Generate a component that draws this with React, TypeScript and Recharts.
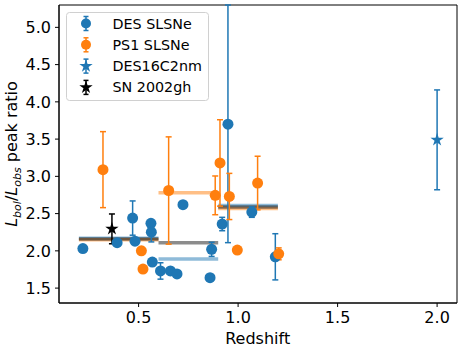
import React from "react";
import {
  ScatterChart,
  Scatter,
  XAxis,
  YAxis,
  ErrorBar,
  ReferenceLine,
  ReferenceArea,
  Legend,
} from "recharts";

const BLUE = "#1f77b4";
const ORANGE = "#ff7f0e";
const FONT = "DejaVu Sans, Verdana, sans-serif";

// DES SLSNe: redshift, ratio, error (undefined = no visible bar)
const desZ = [0.22, 0.392, 0.47, 0.482, 0.562, 0.564, 0.569, 0.61, 0.66, 0.693, 0.723, 0.859, 0.867, 0.92, 0.949, 1.069, 1.187];
const desRatio = [2.03, 2.11, 2.44, 2.13, 2.37, 2.25, 1.85, 1.73, 1.73, 1.69, 2.62, 1.64, 2.02, 2.36, 3.7, 2.52, 1.92];
const desErr: (number | [number, number] | undefined)[] = [
  undefined, undefined, 0.23, undefined, undefined, 0.13, undefined, 0.11, undefined, undefined,
  undefined, undefined, 0.095, 0.09, [1.59, 1.6], 0.07, 0.31,
];

// PS1 SLSNe
const ps1Z = [0.321, 0.514, 0.522, 0.651, 0.885, 0.909, 0.956, 0.996, 1.098, 1.204];
const ps1Ratio = [3.09, 2.0, 1.755, 2.81, 2.745, 3.18, 2.73, 2.01, 2.91, 1.96];
const ps1Err: (number | undefined)[] = [0.51, undefined, undefined, 0.72, 0.26, 0.58, 0.31, undefined, 0.36, 0.08];

// single objects
const c2nm = [{ x: 2.0, y: 3.49, err: 0.67 }];
const sn2002gh = [{ x: 0.366, y: 2.295, err: 0.2 }];

// binned medians
const binEdges = [0.2, 0.6, 0.9, 1.2];
const desMedian = [2.17, 1.89, 2.61];
const ps1Median = [2.15, 2.78, 2.57];
const allMedian = [2.16, 2.11, 2.59];

const xTicks = [0.5, 1.0, 1.5, 2.0];
const yTicks = [1.5, 2.0, 2.5, 3.0, 3.5, 4.0, 4.5, 5.0];

const desData = desZ.map((x, i) => ({ x, y: desRatio[i], err: desErr[i] }));
const ps1Data = ps1Z.map((x, i) => ({ x, y: ps1Ratio[i], err: ps1Err[i] }));

const starPoints = (cx: number, cy: number, R: number) => {
  const r = R * 0.382;
  const pts: string[] = [];
  for (let k = 0; k < 10; k++) {
    const a = -Math.PI / 2 + (k * Math.PI) / 5;
    const rad = k % 2 === 0 ? R : r;
    pts.push(`${cx + rad * Math.cos(a)},${cy + rad * Math.sin(a)}`);
  }
  return pts.join(" ");
};

const dot = (color: string) => (p: any) => <circle cx={p.cx} cy={p.cy} r={5.5} fill={color} />;
const star = (color: string) => (p: any) => <polygon points={starPoints(p.cx, p.cy, 7)} fill={color} />;

const legendItems = [
  { label: "DES SLSNe", color: BLUE, kind: "dot" },
  { label: "PS1 SLSNe", color: ORANGE, kind: "dot" },
  { label: "DES16C2nm", color: BLUE, kind: "star" },
  { label: "SN 2002gh", color: "#000", kind: "star" },
];

const LegendBox = () => (
  <svg width={143} height={89} style={{ display: "block" }}>
    <rect x={0.5} y={0.5} width={142} height={88} rx={3} fill="#fff" fillOpacity={0.8} stroke="#d0d0d0" />
    {legendItems.map((it, i) => {
      const cy = 11.5 + i * 21.3;
      return (
        <g key={it.label}>
          <line x1={20} x2={20} y1={cy - 7} y2={cy + 7} stroke={it.color} strokeWidth={1.5} />
          <line x1={17.5} x2={22.5} y1={cy - 7} y2={cy - 7} stroke={it.color} strokeWidth={1.5} />
          <line x1={17.5} x2={22.5} y1={cy + 7} y2={cy + 7} stroke={it.color} strokeWidth={1.5} />
          {it.kind === "dot" ? (
            <circle cx={20} cy={cy} r={5} fill={it.color} />
          ) : (
            <polygon points={starPoints(20, cy, 7)} fill={it.color} />
          )}
          <text x={46.5} y={cy + 5} fontSize={14.3} fontFamily={FONT} fill="#000">
            {it.label}
          </text>
        </g>
      );
    })}
  </svg>
);

const medianLines = (vals: number[], color: string, opacity: number) =>
  vals.map((m, i) => (
    <ReferenceLine
      key={`${color}-${i}`}
      segment={[
        { x: binEdges[i], y: m },
        { x: binEdges[i + 1], y: m },
      ]}
      stroke={color}
      strokeWidth={3.5}
      strokeOpacity={opacity}
    />
  ));

export default function App() {
  return (
    <div style={{ position: "absolute", left: 0, top: 0, width: 463, height: 347, background: "#fff" }}>
      <ScatterChart width={463} height={347} margin={{ top: 5, right: 6, bottom: 0, left: 0 }}>
        <XAxis
          type="number"
          dataKey="x"
          domain={[0.1, 2.1]}
          ticks={xTicks}
          allowDataOverflow
          height={44}
          tickSize={4}
          tickMargin={5}
          tickFormatter={(v: number) => v.toFixed(1)}
          tick={{ fontSize: 16, fill: "#000", fontFamily: FONT }}
          stroke="#000"
        />
        <YAxis
          type="number"
          dataKey="y"
          domain={[1.3, 5.3]}
          ticks={yTicks}
          allowDataOverflow
          width={59}
          tickSize={4}
          tickMargin={4}
          tickFormatter={(v: number) => v.toFixed(1)}
          tick={{ fontSize: 16, fill: "#000", fontFamily: FONT }}
          stroke="#000"
        />
        <ReferenceArea x1={0.1} x2={2.1} y1={1.3} y2={5.3} fill="none" stroke="#000" strokeWidth={1} />
        {medianLines(desMedian, BLUE, 0.5)}
        {medianLines(ps1Median, ORANGE, 0.5)}
        {medianLines(allMedian, "#000", 0.45)}
        <Scatter data={desData} fill={BLUE} shape={dot(BLUE)} isAnimationActive={false}>
          <ErrorBar dataKey="err" direction="y" width={3} stroke={BLUE} strokeWidth={1.5} />
        </Scatter>
        <Scatter data={ps1Data} fill={ORANGE} shape={dot(ORANGE)} isAnimationActive={false}>
          <ErrorBar dataKey="err" direction="y" width={3} stroke={ORANGE} strokeWidth={1.5} />
        </Scatter>
        <Scatter data={c2nm} fill={BLUE} shape={star(BLUE)} isAnimationActive={false}>
          <ErrorBar dataKey="err" direction="y" width={3} stroke={BLUE} strokeWidth={1.5} />
        </Scatter>
        <Scatter data={sn2002gh} fill="#000" shape={star("#000")} isAnimationActive={false}>
          <ErrorBar dataKey="err" direction="y" width={3} stroke="#000" strokeWidth={1.5} />
        </Scatter>
        <Legend
          layout="vertical"
          align="center"
          verticalAlign="middle"
          content={() => <LegendBox />}
          wrapperStyle={{ position: "absolute", left: 65.5, top: 11.5, width: 143, height: 89 }}
        />
        <text x={257.7} y={343.5} textAnchor="middle" fontSize={16} fontFamily={FONT} fill="#000">
          Redshift
        </text>
        <text
          x={17}
          y={154}
          transform="rotate(-90, 17, 154)"
          textAnchor="middle"
          fontSize={16}
          fontFamily={FONT}
          fill="#000"
        >
          <tspan fontStyle="italic">L</tspan>
          <tspan fontStyle="italic" fontSize={11} dy={3.5}>bol</tspan>
          <tspan dy={-3.5}>/</tspan>
          <tspan fontStyle="italic">L</tspan>
          <tspan fontStyle="italic" fontSize={11} dy={3.5}>obs</tspan>
          <tspan dy={-3.5}> peak ratio</tspan>
        </text>
      </ScatterChart>
    </div>
  );
}
